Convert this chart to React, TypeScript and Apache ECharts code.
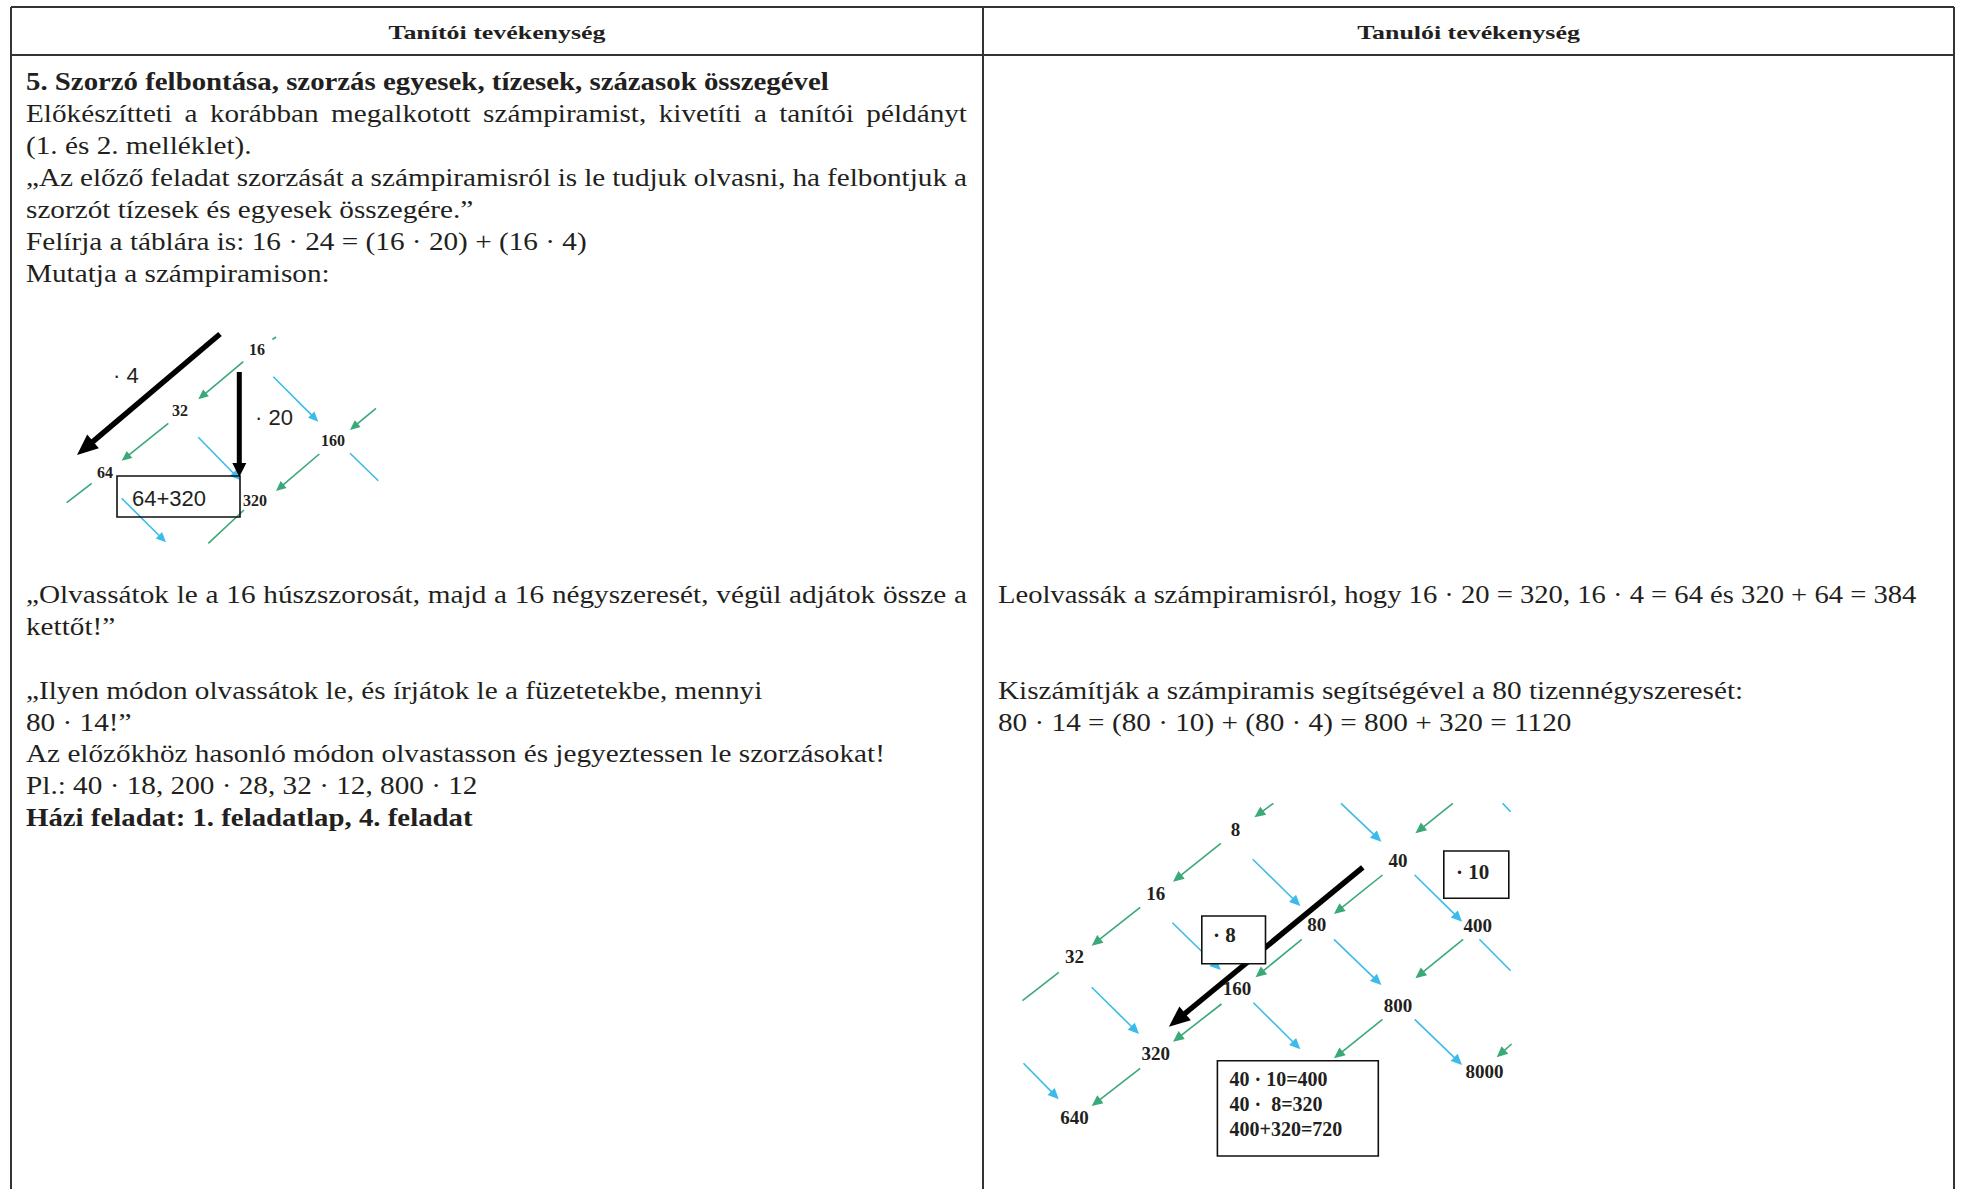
import { useEffect, useRef } from "react";
import * as echarts from "echarts";

// ---------------- DATA ----------------
const headerTitles = ["Tanítói tevékenység", "Tanulói tevékenység"];

const teacherIntro = [
  "5. Szorzó felbontása, szorzás egyesek, tízesek, százasok összegével",
  "Előkészítteti a korábban megalkotott számpiramist, kivetíti a tanítói példányt",
  "(1. és 2. melléklet).",
  "„Az előző feladat szorzását a számpiramisról is le tudjuk olvasni, ha felbontjuk a",
  "szorzót tízesek és egyesek összegére.”",
  "Felírja a táblára is: 16 · 24 = (16 · 20) + (16 · 4)",
  "Mutatja a számpiramison:",
];

const teacherTasks = [
  "„Olvassátok le a 16 húszszorosát, majd a 16 négyszeresét, végül adjátok össze a",
  "kettőt!”",
  "",
  "„Ilyen módon olvassátok le, és írjátok le a füzetetekbe, mennyi",
  "80 · 14!”",
  "Az előzőkhöz hasonló módon olvastasson és jegyeztessen le szorzásokat!",
  "Pl.: 40 · 18, 200 · 28, 32 · 12, 800 · 12",
  "Házi feladat: 1. feladatlap, 4. feladat",
];

const studentTasks = [
  "Leolvassák a számpiramisról, hogy 16 · 20 = 320, 16 · 4 = 64 és 320 + 64 = 384",
  "",
  "",
  "Kiszámítják a számpiramis segítségével a 80 tizennégyszeresét:",
  "80 · 14 = (80 · 10) + (80 · 4) = 800 + 320 = 1120",
];

const pyramidANumbers = ["16", "32", "64", "160", "320"];
const pyramidAFactors = ["· 4", "· 20"];
const pyramidASum = ["64+320"];

const pyramidBNumbers = ["8", "16", "32", "40", "80", "160", "320", "640", "400", "800", "8000"];
const pyramidBFactors = ["· 10", "· 8"];
const pyramidBSums = ["40 · 10=400", "40 · \u00a08=320", "400+320=720"];

// ---------------- LAYOUT / STYLE ----------------
const SERIF = '"Liberation Serif", "Times New Roman", serif';
const SANS = '"Liberation Sans", Arial, sans-serif';
const INK = "#231f20";
const RULE = "#333333";
const GREEN = "#3aa878";
const BLUE = "#3bbbe9";

const TABLE = { left: 11, mid: 983, right: 1954, top: 7, headBottom: 55, bottom: 1189 };
const COL_L = { x0: 26, x1: 967 };
const COL_R = { x0: 998 };
const LINE_PITCH = 31.9;
const INTRO_Y0 = 81.3;
const TASKS_Y0 = 594;
const BODY_PX = 26;
const introJustify = [1, 3];
const introBold = [0];
const tasksJustify = [0];
const tasksBold = [7];
// reference widths of a few lines (used to fit the substitute font's width)
const FIT_REGULAR = 859; // teacherTasks[5]
const FIT_BOLD = 803; // teacherIntro[0]
const FIT_STUDENT0 = 918; // studentTasks[0]
const FIT_HEADER = 217;

// positions of pyramid A labels (left diagram)
const pyrAPos = [[257, 349], [180, 410], [105, 472], [333, 440], [243, 500]];
const pyrAAlign = ["center", "center", "center", "center", "left"];
const pyrAFactorPos = [[113, 375], [255, 417]];
const pyrASumBox = [117, 476, 240, 517];
const pyrASumPos = [132, 498];
const pyrAGreenHead = [
  [243.3, 361.7, 198.3, 399.3],
  [168.3, 423.3, 121.7, 460.7],
  [376, 408.3, 350, 430],
  [319.3, 454, 276, 491],
];
const pyrAGreenPlain = [
  [91.7, 483.3, 66.7, 502.7],
  [244, 510, 208.3, 543.3],
  [272.5, 339.5, 276, 337],
];
const pyrABlueHead = [
  [273.3, 376.7, 318.3, 421.7],
  [198.3, 437.3, 240, 480],
  [121.7, 498.3, 166, 542.3],
];
const pyrABluePlain = [[350, 453.3, 378.3, 480.7]];
const pyrABlack = [
  [220, 334, 77, 455, 5.5, 21, 18],
  [239.3, 372, 239.3, 477, 5, 14, 14],
];

// positions of pyramid B labels (right diagram)
const pyrBPos = [
  [1235.4, 829.3], [1155.8, 893.3], [1074.4, 956.7], [1398, 860], [1316.7, 924],
  [1237, 988.3], [1155.8, 1053.3], [1074.4, 1117.3], [1477.7, 925], [1398, 1005], [1484.6, 1071.7],
];
const pyrBFactorBoxes = [
  [1443.8, 851, 1508.8, 898.3],
  [1201.8, 916, 1265.5, 963.7],
];
const pyrBFactorPos = [[1456, 871.7], [1213, 935]];
const pyrBSumBox = [1217.4, 1060.7, 1378.3, 1156];
const pyrBSumPos = [[1229.5, 1079.3], [1229.5, 1103.8], [1229.5, 1129]];
const pyrBGreenHead = [
  [1273.4, 803.3, 1254.4, 817.3],
  [1220.8, 843.3, 1173, 881.7],
  [1140.2, 907.3, 1091.7, 945.7],
  [1452.8, 803.3, 1415.4, 833.3],
  [1382.5, 875, 1334, 914],
  [1301.8, 939.3, 1255.5, 977.3],
  [1221.5, 1004, 1173, 1041.7],
  [1140.2, 1068.3, 1091.7, 1106],
  [1463.1, 939.3, 1415.4, 978.3],
  [1382.5, 1019.3, 1334, 1058.3],
  [1511.6, 1044, 1496.7, 1057.3],
];
const pyrBGreenPlain = [[1058.8, 972.3, 1022.5, 1000.7]];
const pyrBBlueHead = [
  [1341, 803.3, 1381.4, 841.7],
  [1252.7, 859.3, 1300.4, 906],
  [1172.4, 922.7, 1220.8, 970],
  [1091.7, 987.3, 1139.1, 1034],
  [1023.5, 1063.3, 1058.8, 1099.3],
  [1414.7, 875, 1462.1, 921.7],
  [1334, 939.3, 1381.4, 985],
  [1253.4, 1002.7, 1300.4, 1049.3],
  [1414.7, 1019.3, 1462.1, 1065],
];
const pyrBBluePlain = [
  [1479.4, 939.3, 1510.6, 970.7],
  [1502.6, 803.3, 1510.6, 811.7],
];
const pyrBBlack = [[1362.8, 867.3, 1168.9, 1026.7, 5.5, 21, 18]];

// ---------------- BUILD ----------------
function buildElements(): any[] {
  const ctx = document.createElement("canvas").getContext("2d")!;
  const measure = (text: string, font: string) => {
    ctx.font = font;
    return ctx.measureText(text).width;
  };

  const els: any[] = [];
  const txt = (text: string, x: number, y: number, font: string, opts: any = {}) => ({
    type: "text",
    x,
    y,
    scaleX: opts.sx ?? 1,
    silent: true,
    z: opts.z ?? 10,
    style: {
      text,
      x: 0,
      y: 0,
      font,
      fill: opts.fill ?? INK,
      textAlign: opts.align ?? "left",
      textVerticalAlign: "middle",
      verticalAlign: "middle",
    },
  });
  const line = (x1: number, y1: number, x2: number, y2: number, stroke: string, lw: number, z = 2) => ({
    type: "line",
    silent: true,
    z,
    shape: { x1, y1, x2, y2 },
    style: { stroke, lineWidth: lw },
  });
  const rect = (x1: number, y1: number, x2: number, y2: number, fill: string | null, z = 5) => ({
    type: "rect",
    silent: true,
    z,
    shape: { x: x1, y: y1, width: x2 - x1, height: y2 - y1 },
    style: { fill: fill ?? "transparent", stroke: "#111", lineWidth: 1.6 },
  });
  const arrow = (a: number[], color: string, lw: number, hl: number, hw: number, head: boolean, z = 2) => {
    const [x1, y1, x2, y2] = a;
    if (!head) {
      els.push(line(x1, y1, x2, y2, color, lw, z));
      return;
    }
    const dx = x2 - x1, dy = y2 - y1;
    const L = Math.hypot(dx, dy);
    const ux = dx / L, uy = dy / L;
    const bx = x2 - ux * hl, by = y2 - uy * hl;
    const px = -uy, py = ux;
    els.push(line(x1, y1, bx + ux, by + uy, color, lw, z));
    els.push({
      type: "polygon",
      silent: true,
      z,
      shape: {
        points: [
          [x2, y2],
          [bx + (px * hw) / 2, by + (py * hw) / 2],
          [bx - (px * hw) / 2, by - (py * hw) / 2],
        ],
      },
      style: { fill: color },
    });
  };

  // table rules
  els.push(line(TABLE.left, TABLE.top, TABLE.right, TABLE.top, RULE, 2, 1));
  els.push(line(TABLE.left, TABLE.headBottom, TABLE.right, TABLE.headBottom, RULE, 2, 1));
  els.push(line(TABLE.left, TABLE.top, TABLE.left, TABLE.bottom, RULE, 2, 1));
  els.push(line(TABLE.mid, TABLE.top, TABLE.mid, TABLE.bottom, RULE, 2, 1));
  els.push(line(TABLE.right, TABLE.top, TABLE.right, TABLE.bottom, RULE, 2, 1));

  // headers
  const headFont = `bold 19px ${SERIF}`;
  const sxHead = FIT_HEADER / measure(headerTitles[0], headFont);
  els.push(txt(headerTitles[0], (TABLE.left + TABLE.mid) / 2, 32.5, headFont, { sx: sxHead, align: "center" }));
  els.push(txt(headerTitles[1], (TABLE.mid + TABLE.right) / 2, 32.5, headFont, { sx: sxHead, align: "center" }));

  // body text
  const regFont = `${BODY_PX}px ${SERIF}`;
  const boldFont = `bold ${BODY_PX}px ${SERIF}`;
  const sxReg = FIT_REGULAR / measure(teacherTasks[5], regFont);
  const sxBold = FIT_BOLD / measure(teacherIntro[0], boldFont);
  const sxStudent0 = FIT_STUDENT0 / measure(studentTasks[0], regFont);

  const placeLine = (s: string, x0: number, y: number, bold: boolean, justify: boolean, sxOverride?: number) => {
    if (!s) return;
    const font = bold ? boldFont : regFont;
    const sx = sxOverride ?? (bold ? sxBold : sxReg);
    if (!justify) {
      els.push(txt(s, x0, y, font, { sx }));
      return;
    }
    const words = s.split(" ");
    const ws = words.map((w) => measure(w, font) * sx);
    const total = ws.reduce((p, c) => p + c, 0);
    const gap = (COL_L.x1 - x0 - total) / (words.length - 1);
    let x = x0;
    words.forEach((w, i) => {
      els.push(txt(w, x, y, font, { sx }));
      x += ws[i] + gap;
    });
  };

  teacherIntro.forEach((s, i) =>
    placeLine(s, COL_L.x0, INTRO_Y0 + i * LINE_PITCH, introBold.includes(i), introJustify.includes(i))
  );
  teacherTasks.forEach((s, i) =>
    placeLine(s, COL_L.x0, TASKS_Y0 + i * LINE_PITCH, tasksBold.includes(i), tasksJustify.includes(i))
  );
  studentTasks.forEach((s, i) =>
    placeLine(s, COL_R.x0, TASKS_Y0 + i * LINE_PITCH, false, false, i === 0 ? sxStudent0 : undefined)
  );

  // ---- pyramid A (left) ----
  pyrAGreenPlain.forEach((a) => arrow(a, GREEN, 1.6, 0, 0, false));
  pyrAGreenHead.forEach((a) => arrow(a, GREEN, 1.6, 10, 9, true));
  pyrABluePlain.forEach((a) => arrow(a, BLUE, 1.6, 0, 0, false));
  pyrABlueHead.forEach((a) => arrow(a, BLUE, 1.6, 10, 9, true));
  els.push(rect(pyrASumBox[0], pyrASumBox[1], pyrASumBox[2], pyrASumBox[3], null, 4));
  pyrABlack.forEach((a) => arrow(a.slice(0, 4), "#000", a[4], a[5], a[6], true, 6));
  const numAFont = `bold 16px ${SERIF}`;
  pyramidANumbers.forEach((n, i) => {
    const [x, y] = pyrAPos[i];
    els.push(txt(n, x, y, numAFont, { align: pyrAAlign[i], z: 8 }));
  });
  const sansFont = `22px ${SANS}`;
  pyramidAFactors.forEach((f, i) => els.push(txt(f, pyrAFactorPos[i][0], pyrAFactorPos[i][1], sansFont, { z: 8 })));
  els.push(txt(pyramidASum[0], pyrASumPos[0], pyrASumPos[1], `22px ${SANS}`, { z: 8 }));

  // ---- pyramid B (right) ----
  pyrBGreenPlain.forEach((a) => arrow(a, GREEN, 1.6, 0, 0, false));
  pyrBGreenHead.forEach((a) => arrow(a, GREEN, 1.6, 11, 10, true));
  pyrBBluePlain.forEach((a) => arrow(a, BLUE, 1.6, 0, 0, false));
  pyrBBlueHead.forEach((a) => arrow(a, BLUE, 1.6, 11, 10, true));
  pyrBBlack.forEach((a) => arrow(a.slice(0, 4), "#000", a[4], a[5], a[6], true, 3));
  const numBFont = `bold 19px ${SERIF}`;
  pyramidBNumbers.forEach((n, i) => {
    const [x, y] = pyrBPos[i];
    els.push(txt(n, x, y, numBFont, { align: "center", z: 8 }));
  });
  pyrBFactorBoxes.forEach((b) => els.push(rect(b[0], b[1], b[2], b[3], "#ffffff", 7)));
  const boxFont = `bold 21px ${SERIF}`;
  pyramidBFactors.forEach((f, i) => els.push(txt(f, pyrBFactorPos[i][0], pyrBFactorPos[i][1], boxFont, { z: 8 })));
  els.push(rect(pyrBSumBox[0], pyrBSumBox[1], pyrBSumBox[2], pyrBSumBox[3], "#ffffff", 7));
  pyramidBSums.forEach((s, i) => els.push(txt(s, pyrBSumPos[i][0], pyrBSumPos[i][1], `bold 20px ${SERIF}`, { z: 8 })));

  return els;
}

export default function App() {
  const ref = useRef<HTMLDivElement>(null);
  useEffect(() => {
    if (!ref.current) return;
    const chart = echarts.init(ref.current, null, { renderer: "svg" });
    chart.setOption({
      animation: false,
      backgroundColor: "#ffffff",
      graphic: { elements: buildElements() },
    });
    return () => chart.dispose();
  }, []);
  return (
    <div
      ref={ref}
      style={{ position: "fixed", left: 0, top: 0, width: 1961, height: 1189, background: "#ffffff" }}
    />
  );
}
